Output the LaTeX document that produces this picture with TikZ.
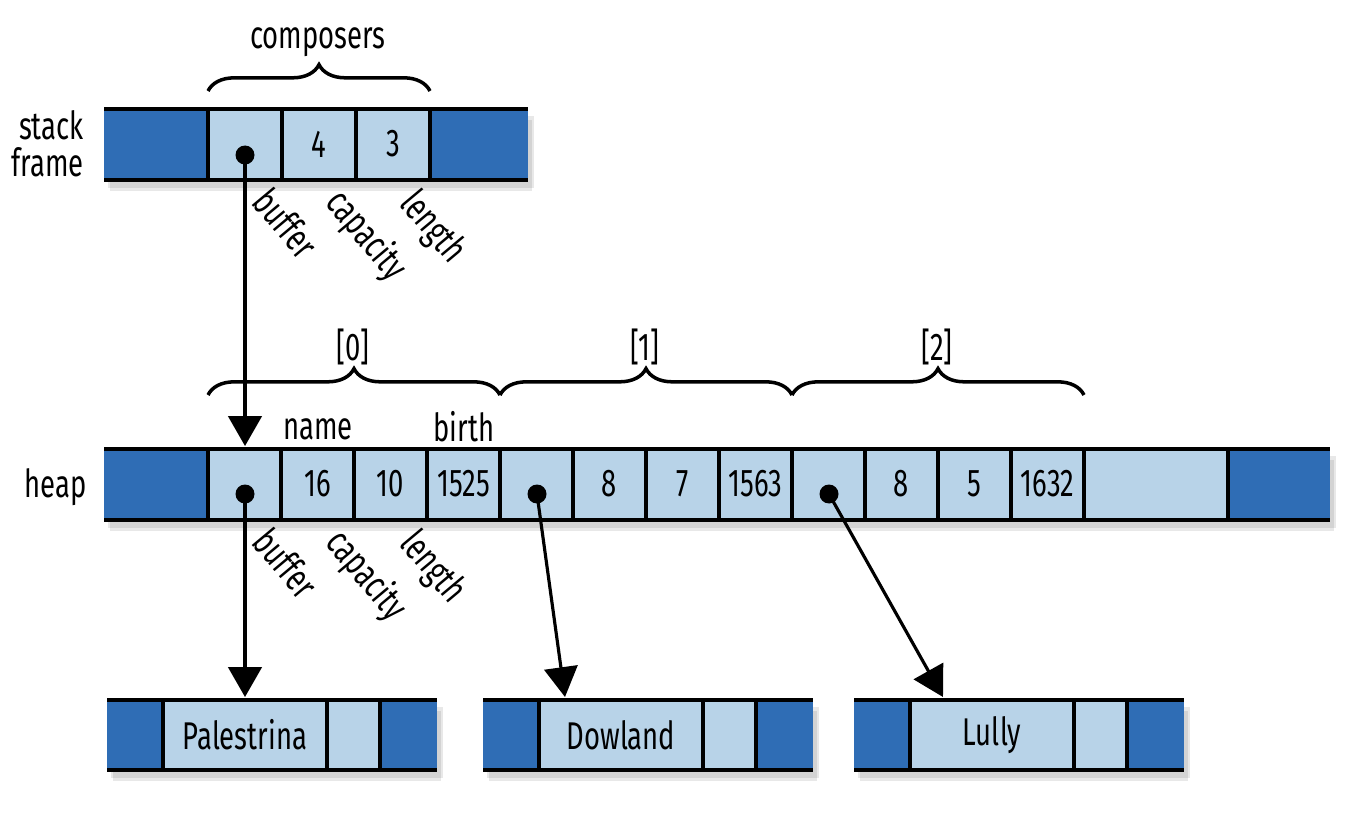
\documentclass[tikz,border=0pt]{standalone}
\usepackage{fontspec}
\setmainfont{Fira Sans}[FakeStretch=0.71]
\usepackage{tikz}
\usetikzlibrary{arrows.meta,decorations.pathreplacing}

\definecolor{darkcell}{RGB}{47,109,181}
\definecolor{lightcell}{RGB}{184,211,232}

\tikzset{
	rowline/.style={line width=2.5pt},
	pointer/.style={line width=1.8pt,-{Triangle[width=19pt,length=17pt]}},
	dot/.style={circle,fill=black,inner sep=0pt,minimum size=0.38cm},
	curly/.style={decorate,decoration={brace,amplitude=15pt},line width=2pt},
	field/.style={rotate=-50},
	rowshadow/.style={fill=black,opacity=0.09},
}

\begin{document}
\begin{tikzpicture}[x=0.02cm,y=-0.02cm,every node/.style={font=\fontsize{22}{21}\selectfont}]
		\useasboundingbox (0,0) rectangle (1366,814);

		% Shadows under the rows
		\fill[rowshadow] (108,116) rectangle (534,188);
		\fill[rowshadow] (110,120) rectangle (532,191);
		\fill[rowshadow] (108,456) rectangle (1336,528);
		\fill[rowshadow] (110,460) rectangle (1334,531);
		\foreach \bx in {107,483,854}
		{
		\fill[rowshadow] (\bx+4,707) rectangle ({\bx+336},778);
		\fill[rowshadow] (\bx+6,711) rectangle ({\bx+334},781);
		}

		% Stack frame
		\fill[darkcell] (104,109) rectangle (208,180);
		\fill[lightcell] (208,109) rectangle (430,180);
		\fill[darkcell] (430,109) rectangle (528,180);
		\foreach \y in {109,180}
		\draw[rowline] (104,\y) -- (528,\y);
		\foreach \x in {208,282,356,430}
		\draw[rowline] (\x,109) -- (\x,180);
		\node (scap) at (319,144) {4};
		\node (slen) at (393,144) {3};
		\node[dot] (sbuf) at (245,155) {};
		\node[anchor=east,align=right] (stacklbl) at (90,144) {stack\\frame};
		\node[field] (sfbuf) at (286,223) {buffer};
		\node[field] (sfcap) at (366,236) {capacity};
		\node[field] (sflen) at (432,228) {length};
		\draw[curly] (208,91) -- (430,91);
		\node (comp) at (318,42) {composers};

		% Heap
		\fill[darkcell] (104,449) rectangle (208,520);
		\fill[lightcell] (208,449) rectangle (1228,520);
		\fill[darkcell] (1228,449) rectangle (1330,520);
		\foreach \y in {449,520}
		\draw[rowline] (104,\y) -- (1330,\y);
		\foreach \i in {0,...,12}
		\draw[rowline] ({208+73*\i},449) -- ({208+73*\i},520);
		\draw[rowline] (1228,449) -- (1228,520);
		\foreach \v [count=\i from 0] in {,16,10,1525,,8,7,1563,,8,5,1632}
		\node (h\i) at ({244.5+73*\i},484) {\v};
		\foreach \i in {0,4,8}
		\node[dot] (d\i) at ({245+73*\i},494) {};
		\node[anchor=east] (heaplbl) at (93,487) {heap};
		\node (namelbl) at (318,429) {name};
		\node (birthlbl) at (464,427) {birth};
		\node[field] (hfbuf) at (286,563) {buffer};
		\node[field] (hfcap) at (366,576) {capacity};
		\node[field] (hflen) at (432,568) {length};

		% Braces over the elements
		\foreach \i/\lbl in {0/[0],1/[1],2/[2]}
		{
		\draw[curly] ({208+292*\i},395) -- ({500+292*\i},395);
		\node (idx\i) at ({353+292*\i},347) {\lbl};
		}

		% Strings on the heap
		\foreach \bx/\name [count=\j] in {107/Palestrina,483/Dowland,854/Lully}
		{
		\fill[darkcell] (\bx,700) rectangle ++(56,70);
		\fill[lightcell] ({\bx+56},700) rectangle ++(217,70);
		\fill[darkcell] ({\bx+273},700) rectangle ++(57,70);
		\foreach \y in {700,770}
		\draw[rowline] (\bx,\y) -- ++(330,0);
		\foreach \dx in {56,220,273}
		\draw[rowline] ({\bx+\dx},700) -- ++(0,70);
		\node (s\j) at ({\bx+138},735) {\name};
		}

		% Pointers
		\coordinate (htop) at (245,446);
		\coordinate (t1) at (245,697);
		\coordinate (t2) at (565,697);
		\coordinate (t3) at (943,697);
		\draw[pointer] (sbuf.center) -- (htop);
		\draw[pointer] (d0.center) -- (t1);
		\draw[pointer] (d4.center) -- (t2);
		\draw[pointer] (d8.center) -- (t3);
	\end{tikzpicture}
\end{document}
